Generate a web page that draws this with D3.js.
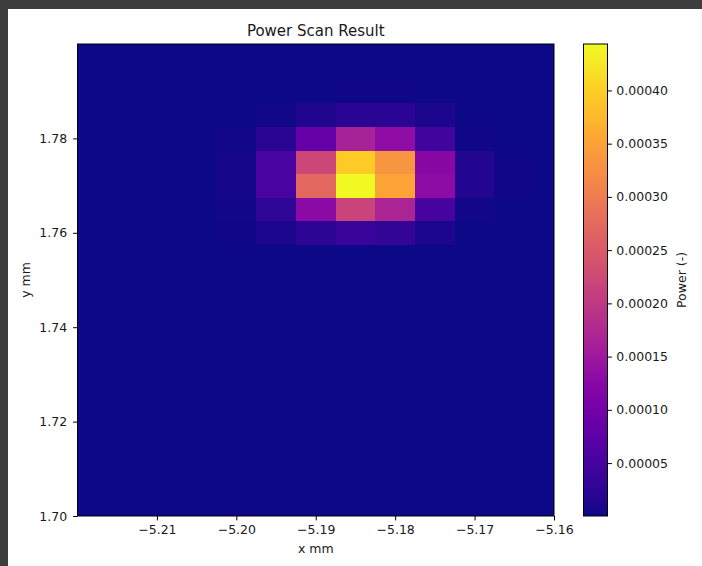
<!DOCTYPE html>
<html>
<head>
<meta charset="utf-8">
<script src="https://cdn.jsdelivr.net/npm/d3@7"></script>
<style>
  html, body { margin: 0; padding: 0; background: #3d3d3d; }
  svg { display: block; }
  text { font-family: "DejaVu Sans", sans-serif; fill: #1a1a1a; }
</style>
</head>
<body>
<svg id="chart" width="702" height="566"></svg>
<script>
// ---- data ----
const title = "Power Scan Result";
const xLabel = "x mm";
const yLabel = "y mm";
const cbLabel = "Power (-)";

// scan grid centres
const xCenters = [-5.220, -5.215, -5.210, -5.205, -5.200, -5.195, -5.190, -5.185, -5.180, -5.175, -5.170, -5.165, -5.160];
const yCenters = [1.700, 1.705, 1.710, 1.715, 1.720, 1.725, 1.730, 1.735, 1.740, 1.745, 1.750, 1.755, 1.760, 1.765, 1.770, 1.775, 1.780, 1.785, 1.790, 1.795, 1.800];

// power rows (one per y centre, bottom to top), one value per x centre
const row00 = [0.0000003, 0.0000003, 0.0000003, 0.0000003, 0.0000003, 0.0000003, 0.0000003, 0.0000003, 0.0000003, 0.0000003, 0.0000003, 0.0000003, 0.0000003];
const row01 = [0.0000003, 0.0000003, 0.0000003, 0.0000003, 0.0000003, 0.0000003, 0.0000003, 0.0000003, 0.0000003, 0.0000003, 0.0000003, 0.0000003, 0.0000003];
const row02 = [0.0000003, 0.0000003, 0.0000003, 0.0000003, 0.0000003, 0.0000003, 0.0000003, 0.0000003, 0.0000003, 0.0000003, 0.0000003, 0.0000003, 0.0000003];
const row03 = [0.0000003, 0.0000003, 0.0000003, 0.0000003, 0.0000003, 0.0000003, 0.0000003, 0.0000003, 0.0000003, 0.0000003, 0.0000003, 0.0000003, 0.0000003];
const row04 = [0.0000003, 0.0000003, 0.0000003, 0.0000003, 0.0000003, 0.0000003, 0.0000003, 0.0000003, 0.0000003, 0.0000003, 0.0000003, 0.0000003, 0.0000003];
const row05 = [0.0000003, 0.0000003, 0.0000003, 0.0000003, 0.0000003, 0.0000003, 0.0000003, 0.0000003, 0.0000003, 0.0000003, 0.0000003, 0.0000003, 0.0000003];
const row06 = [0.0000003, 0.0000003, 0.0000003, 0.0000003, 0.0000003, 0.0000003, 0.0000003, 0.0000003, 0.0000003, 0.0000003, 0.0000003, 0.0000003, 0.0000003];
const row07 = [0.0000003, 0.0000003, 0.0000003, 0.0000003, 0.0000003, 0.0000003, 0.0000003, 0.0000003, 0.0000003, 0.0000003, 0.0000003, 0.0000003, 0.0000003];
const row08 = [0.0000003, 0.0000003, 0.0000003, 0.0000003, 0.0000003, 0.0000003, 0.0000003, 0.0000003, 0.0000003, 0.0000003, 0.0000003, 0.0000003, 0.0000003];
const row09 = [0.0000003, 0.0000003, 0.0000003, 0.0000003, 0.0000003, 0.0000003, 0.0000003, 0.0000003, 0.0000003, 0.0000003, 0.0000003, 0.0000003, 0.0000003];
const row10 = [0.0000003, 0.0000003, 0.0000003, 0.0000003, 0.0000003, 0.0000003, 0.0000003, 0.0000003, 0.0000003, 0.0000003, 0.0000003, 0.0000003, 0.0000003];
const row11 = [0.0000003, 0.0000003, 0.0000003, 0.0000003, 0.0000005, 0.0000008, 0.0000010, 0.0000012, 0.0000012, 0.0000008, 0.0000005, 0.0000003, 0.0000003];
const row12 = [0.0000003, 0.0000003, 0.0000005, 0.0000008, 0.0000025, 0.0000120, 0.0000240, 0.0000380, 0.0000310, 0.0000110, 0.0000020, 0.0000008, 0.0000003];
const row13 = [0.0000003, 0.0000003, 0.0000006, 0.0000010, 0.0000040, 0.0000270, 0.0001280, 0.0002170, 0.0001690, 0.0000490, 0.0000040, 0.0000010, 0.0000005];
const row14 = [0.0000003, 0.0000003, 0.0000008, 0.0000015, 0.0000070, 0.0000530, 0.0002710, 0.0004436, 0.0003510, 0.0001290, 0.0000150, 0.0000030, 0.0000008];
const row15 = [0.0000003, 0.0000003, 0.0000008, 0.0000015, 0.0000070, 0.0000530, 0.0002220, 0.0003950, 0.0003330, 0.0001240, 0.0000150, 0.0000030, 0.0000008];
const row16 = [0.0000003, 0.0000003, 0.0000005, 0.0000010, 0.0000040, 0.0000220, 0.0000840, 0.0001640, 0.0001330, 0.0000440, 0.0000030, 0.0000010, 0.0000005];
const row17 = [0.0000003, 0.0000003, 0.0000004, 0.0000006, 0.0000012, 0.0000040, 0.0000130, 0.0000220, 0.0000220, 0.0000090, 0.0000020, 0.0000008, 0.0000003];
const row18 = [0.0000003, 0.0000003, 0.0000003, 0.0000003, 0.0000005, 0.0000010, 0.0000020, 0.0000030, 0.0000030, 0.0000012, 0.0000005, 0.0000003, 0.0000003];
const row19 = [0.0000003, 0.0000003, 0.0000003, 0.0000003, 0.0000003, 0.0000003, 0.0000003, 0.0000003, 0.0000003, 0.0000003, 0.0000003, 0.0000003, 0.0000003];
const row20 = [0.0000003, 0.0000003, 0.0000003, 0.0000003, 0.0000003, 0.0000003, 0.0000003, 0.0000003, 0.0000003, 0.0000003, 0.0000003, 0.0000003, 0.0000003];
const powerRows = [row00, row01, row02, row03, row04, row05, row06, row07, row08, row09, row10,
                   row11, row12, row13, row14, row15, row16, row17, row18, row19, row20];

const xTicks = [-5.21, -5.20, -5.19, -5.18, -5.17, -5.16];
const yTicks = [1.70, 1.72, 1.74, 1.76, 1.78];
const cbTicks = [0.00005, 0.00010, 0.00015, 0.00020, 0.00025, 0.00030, 0.00035, 0.00040];

// ---- layout ----
const svg = d3.select("#chart");
const W = 702, H = 566;
const plot = { left: 77.5, right: 554, top: 44, bottom: 516 };
const cb = { left: 583.5, right: 607.5, top: 44, bottom: 516 };
const tickLen = 4.4, tickPad = 4.4;
const fs = 12.5;

// figure background (white page with dark window edge at top/left)
svg.append("rect").attr("x", 0).attr("y", 0).attr("width", W).attr("height", H).attr("fill", "#3d3d3d");
svg.append("rect").attr("x", 8).attr("y", 9).attr("width", W - 8).attr("height", H - 9).attr("fill", "#ffffff");

// scales
const x = d3.scaleLinear().domain([-5.22, -5.16]).range([plot.left, plot.right]);
const y = d3.scaleLinear().domain([1.70, 1.80]).range([plot.bottom, plot.top]);
const allVals = powerRows.flat();
const vmin = d3.min(allVals), vmax = d3.max(allVals);
const color = d3.scaleSequential(d3.interpolatePlasma).domain([vmin, vmax]);

// clip
svg.append("clipPath").attr("id", "plotclip")
  .append("rect").attr("x", plot.left).attr("y", plot.top)
  .attr("width", plot.right - plot.left).attr("height", plot.bottom - plot.top);

// cells
const dx = xCenters[1] - xCenters[0];
const dy = yCenters[1] - yCenters[0];
const cells = [];
powerRows.forEach((row, j) => row.forEach((v, k) => cells.push({ xc: xCenters[k], yc: yCenters[j], v })));

const gCells = svg.append("g").attr("clip-path", "url(#plotclip)");
gCells.selectAll("rect").data(cells).join("rect")
  .attr("x", d => x(d.xc - dx / 2))
  .attr("y", d => y(d.yc + dy / 2))
  .attr("width", d => x(d.xc + dx / 2) - x(d.xc - dx / 2) + 0.4)
  .attr("height", d => y(d.yc - dy / 2) - y(d.yc + dy / 2) + 0.4)
  .attr("fill", d => color(d.v))
  .attr("shape-rendering", "crispEdges");

// frame
svg.append("rect").attr("x", plot.left).attr("y", plot.top)
  .attr("width", plot.right - plot.left).attr("height", plot.bottom - plot.top)
  .attr("fill", "none").attr("stroke", "#000").attr("stroke-width", 1);

const fmt2 = d3.format(".2f");

// x axis
const xAxis = svg.append("g").attr("transform", `translate(0,${plot.bottom})`)
  .call(d3.axisBottom(x).tickValues(xTicks).tickSize(tickLen).tickPadding(tickPad).tickFormat(fmt2));
xAxis.select(".domain").remove();
xAxis.selectAll("line").attr("stroke", "#000").attr("stroke-width", 1);
xAxis.selectAll("text").style("font-family", '"DejaVu Sans", sans-serif').style("font-size", fs + "px").attr("fill", "#1a1a1a");

// y axis
const yAxis = svg.append("g").attr("transform", `translate(${plot.left},0)`)
  .call(d3.axisLeft(y).tickValues(yTicks).tickSize(tickLen).tickPadding(tickPad + 1.5).tickFormat(fmt2));
yAxis.select(".domain").remove();
yAxis.selectAll("line").attr("stroke", "#000").attr("stroke-width", 1);
yAxis.selectAll("text").style("font-family", '"DejaVu Sans", sans-serif').style("font-size", fs + "px").attr("fill", "#1a1a1a");

// title & axis labels
svg.append("text").attr("x", (plot.left + plot.right) / 2).attr("y", 36)
  .attr("text-anchor", "middle").style("font-size", "15px").text(title);
svg.append("text").attr("x", (plot.left + plot.right) / 2).attr("y", 553)
  .attr("text-anchor", "middle").style("font-size", fs + "px").text(xLabel);
svg.append("text").attr("transform", `translate(30,${(plot.top + plot.bottom) / 2}) rotate(-90)`)
  .attr("text-anchor", "middle").style("font-size", fs + "px").text(yLabel);

// colorbar
const cbScale = d3.scaleLinear().domain([vmin, vmax]).range([cb.bottom, cb.top]);
const defs = svg.append("defs");
const grad = defs.append("linearGradient").attr("id", "cbgrad")
  .attr("x1", 0).attr("y1", 1).attr("x2", 0).attr("y2", 0);
d3.range(0, 1.0001, 0.02).forEach(t => {
  grad.append("stop").attr("offset", t).attr("stop-color", d3.interpolatePlasma(t));
});
svg.append("rect").attr("x", cb.left).attr("y", cb.top)
  .attr("width", cb.right - cb.left).attr("height", cb.bottom - cb.top)
  .attr("fill", "url(#cbgrad)").attr("stroke", "#000").attr("stroke-width", 1);

const cbAxis = svg.append("g").attr("transform", `translate(${cb.right},0)`)
  .call(d3.axisRight(cbScale).tickValues(cbTicks).tickSize(tickLen).tickPadding(tickPad).tickFormat(d3.format(".5f")));
cbAxis.select(".domain").remove();
cbAxis.selectAll("line").attr("stroke", "#000").attr("stroke-width", 1);
cbAxis.selectAll("text").style("font-family", '"DejaVu Sans", sans-serif').style("font-size", fs + "px").attr("fill", "#1a1a1a");

svg.append("text").attr("transform", `translate(686,${(cb.top + cb.bottom) / 2}) rotate(-90)`)
  .attr("text-anchor", "middle").style("font-size", fs + "px").text(cbLabel);
</script>
</body>
</html>
